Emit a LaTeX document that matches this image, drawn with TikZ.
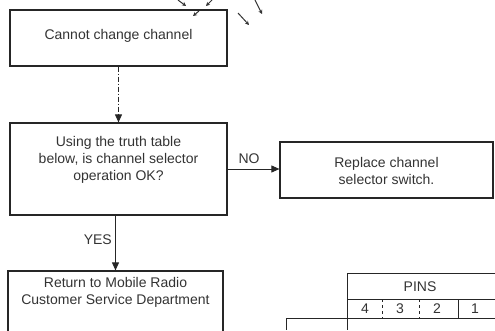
\documentclass[tikz,border=0pt]{standalone}
\usepackage{fontspec}
\setmainfont{Liberation Sans}
\usetikzlibrary{arrows.meta}
\begin{document}
\begin{tikzpicture}[x=1pt,y=-1pt,
  box/.style={draw=black!85, line width=1.2pt, inner sep=0pt},
  lbl/.style={font=\fontsize{14}{17}\selectfont, align=center, text=black!80, inner sep=0pt},
  arr/.style={draw=black!85, line width=0.9pt, -{Triangle[length=8pt,width=7pt]}},
  tline/.style={draw=black!85, line width=1pt},
  scanmark/.style={draw=black!80, line width=1pt, -{Stealth[length=4pt,width=4pt]}}]
\useasboundingbox (0,0) rectangle (495,330);
% boxes
\node[box, minimum width=217pt, minimum height=56pt] (b1) at (118.5,38) {};
\node[lbl] (t1) at (118.5,36) {Cannot change channel};
\node[box, minimum width=217pt, minimum height=92pt] (b2) at (118.5,169) {};
\node[lbl] (t2) at (118.5,160) {Using the truth table\\below, is channel selector\\operation OK?};
\node[box, minimum width=213pt, minimum height=56pt] (b3) at (386.5,170) {};
\node[lbl] (t3) at (386.5,171) {Replace channel\\selector switch.};
\node[box, minimum width=215pt, minimum height=80pt] (b4) at (115.5,311) {};
\node[lbl] (t4) at (115.5,292) {Return to Mobile Radio\\Customer Service Department};
% connectors
\draw[arr, dash pattern=on 5pt off 2pt on 1pt off 2pt] (b1.south) -- (b2.north);
\draw[arr] (b2.east) -- (b2.east -| b3.west);
\draw[arr] (b2.south -| b4.north) -- (b4.north);
\node[lbl] (no) at (249,159) {NO};
\node[lbl, anchor=east] (yes) at (112,240) {YES};
% table
\coordinate (tl) at (347,273);
\node[box, minimum width=160pt, minimum height=26pt, anchor=north west] (pins) at (tl) {};
\node[lbl] (pinslbl) at (420,287) {PINS};
\draw[tline] (347,299) -- (347,330);
\draw[tline] (286,318) -- (500,318);
\draw[tline] (286,318) -- (286,330);
\draw[tline, dashed] (382,299) -- (382,318);
\draw[tline, dashed] (419,299) -- (419,318);
\draw[tline] (458,299) -- (458,318);
\node[lbl] (p4) at (365,309) {4};
\node[lbl] (p3) at (400,309) {3};
\node[lbl] (p2) at (437,309) {2};
\node[lbl] (p1) at (475,309) {1};
% scan marks
\coordinate (m1a) at (178,0); \coordinate (m1b) at (186,6);
\coordinate (m2a) at (212,0); \coordinate (m2b) at (206,6);
\coordinate (m3a) at (199,11); \coordinate (m3b) at (193,16);
\coordinate (m4a) at (238,13); \coordinate (m4b) at (249,25);
\coordinate (m5a) at (255,0); \coordinate (m5b) at (262,14);
\draw[scanmark] (m1a) -- (m1b);
\draw[scanmark] (m2a) -- (m2b);
\draw[scanmark] (m3a) -- (m3b);
\draw[scanmark] (m4a) -- (m4b);
\draw[scanmark] (m5a) -- (m5b);
\draw[line width=2pt, black!85] (176,10) -- (223,10);
\end{tikzpicture}
\end{document}
